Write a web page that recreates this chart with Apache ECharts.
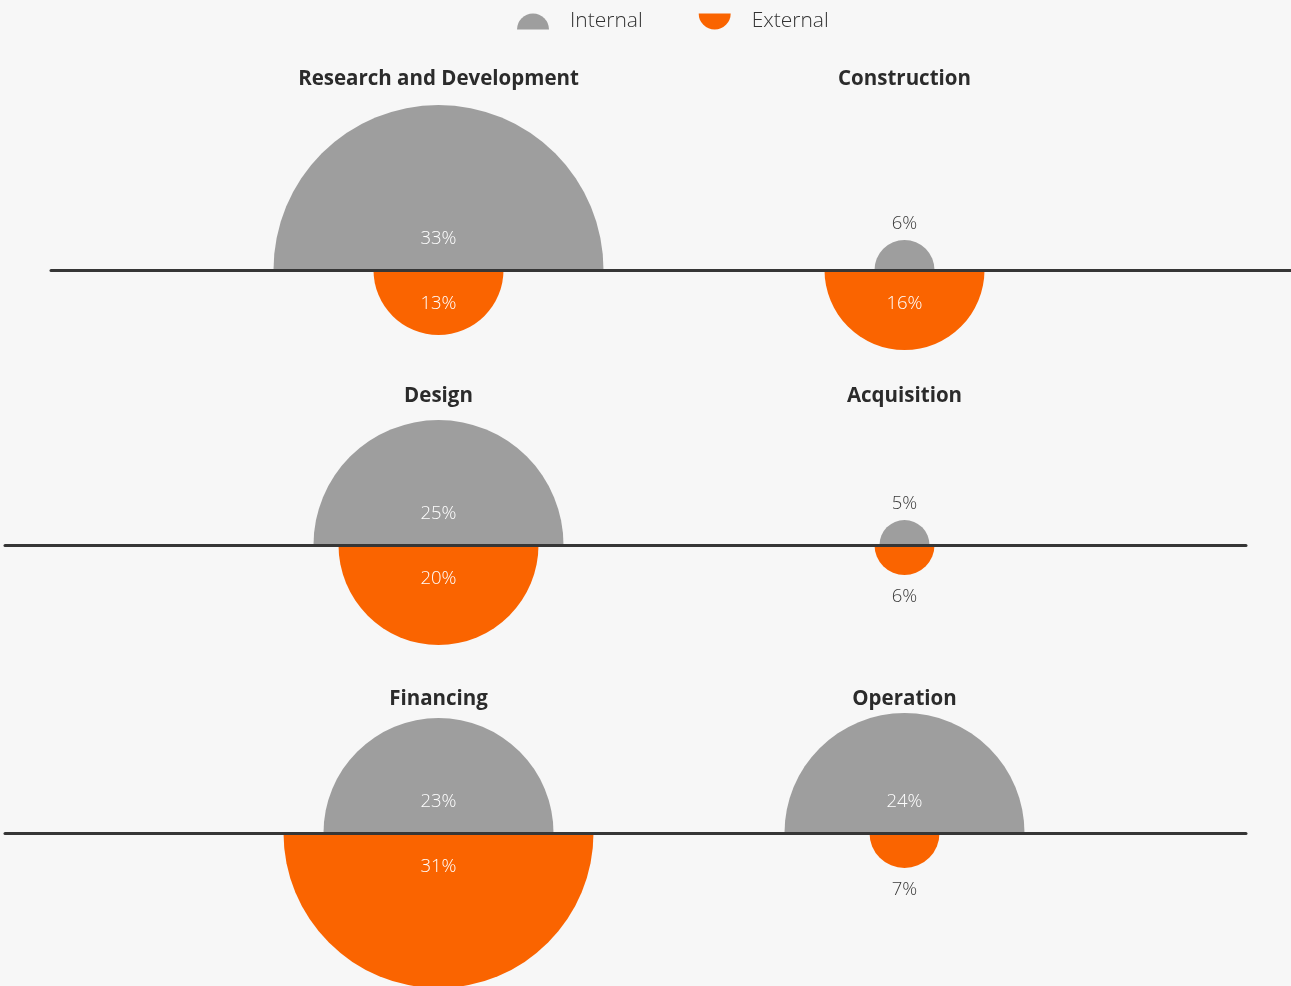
<!DOCTYPE html>
<html>
<head>
<meta charset="utf-8">
<title>Internal vs External</title>
<script src="https://cdn.jsdelivr.net/npm/echarts@6/dist/echarts.min.js"></script>
<style>
  html, body { margin: 0; padding: 0; background: #f7f7f7; }
  #chart { width: 1291px; height: 986px; }
</style>
</head>
<body>
<div id="chart"></div>
<script>
// Share of work done internally vs externally, per project phase (%)
const categories = ['Research and Development', 'Construction', 'Design', 'Acquisition', 'Financing', 'Operation'];
const internalValues = [33, 6, 25, 5, 23, 24];
const externalValues = [13, 16, 20, 6, 31, 7];
const seriesNames = ['Internal', 'External'];

// Layout: two columns, three rows, each row drawn on its own grid
const COLORS = { Internal: '#9e9e9e', External: '#fa6400' };
const FONT = '"Open Sans", "DejaVu Sans", sans-serif';
const colCenters = [438.5, 904.5];
const rowLayout = [
  { baseline: 270, left: 51, right: 1291, titleY: 77 },
  { baseline: 545, left: 5, right: 1246, titleY: 394 },
  { baseline: 833, left: 5, right: 1246, titleY: 697 }
];
const PX_PER_UNIT = 5;       // radius pixels per percentage point
const Y_HALF = 30;           // y axis spans -Y_HALF..Y_HALF
const COL_SPACING = colCenters[1] - colCenters[0];

const grids = [], xAxes = [], yAxes = [], titles = [], series = [];

rowLayout.forEach(function (row, r) {
  const h = 2 * Y_HALF * PX_PER_UNIT;
  const w = row.right - row.left;
  grids.push({ left: row.left, top: row.baseline - h / 2, width: w, height: h, containLabel: false });
  xAxes.push({
    gridIndex: r, type: 'value',
    min: -(colCenters[0] - row.left) / COL_SPACING,
    max: (row.right - colCenters[0]) / COL_SPACING,
    axisLine: { show: true, onZero: true, lineStyle: { color: '#363636', width: 3 } },
    axisTick: { show: false }, axisLabel: { show: false }, splitLine: { show: false },
    z: 5
  });
  yAxes.push({
    gridIndex: r, type: 'value', min: -Y_HALF, max: Y_HALF, show: false,
    splitLine: { show: false }
  });
});

categories.forEach(function (name, i) {
  const r = Math.floor(i / 2), c = i % 2;
  titles.push({
    text: name,
    left: colCenters[c], top: rowLayout[r].titleY - 8,
    textAlign: 'center', padding: 0,
    textStyle: { fontFamily: FONT, fontSize: 20.5, fontWeight: 'bold', color: '#2b2b2b' }
  });
});

function makeRenderer(kind) {
  const up = kind === 'Internal';
  return function (params, api) {
    const col = api.value(0), val = api.value(1);
    const center = api.coord([col, 0]);
    const radius = api.size([0, val])[1];
    const inside = radius > 50;
    let ty, color;
    if (inside) {
      ty = center[1] + (up ? -31 : 34);
      color = '#ffffff';
    } else {
      ty = up ? center[1] - radius - 16 : center[1] + radius + 22;
      color = '#3a3a3a';
    }
    return {
      type: 'group',
      children: [
        {
          type: 'sector',
          shape: {
            cx: center[0], cy: center[1], r0: 0, r: radius,
            startAngle: up ? Math.PI : 0,
            endAngle: up ? Math.PI * 2 : Math.PI,
            clockwise: true
          },
          style: { fill: COLORS[kind] }
        },
        {
          type: 'text',
          z2: 10,
          style: {
            x: center[0], y: ty,
            text: val + '%',
            fill: color,
            font: '300 18.5px ' + FONT,
            align: 'center', verticalAlign: 'middle'
          }
        }
      ]
    };
  };
}

rowLayout.forEach(function (row, r) {
  [['Internal', internalValues], ['External', externalValues]].forEach(function (pair) {
    const kind = pair[0], values = pair[1];
    const data = [];
    for (let c = 0; c < 2; c++) data.push([c, values[r * 2 + c]]);
    series.push({
      name: kind, type: 'custom',
      xAxisIndex: r, yAxisIndex: r,
      clip: false, z: 2,
      itemStyle: { color: COLORS[kind] },
      renderItem: makeRenderer(kind),
      data: data
    });
  });
});

const chart = echarts.init(document.getElementById('chart'), null, { renderer: 'canvas' });
chart.setOption({
  backgroundColor: '#f7f7f7',
  animation: false,
  title: titles,
  legend: {
    left: 517, top: 11, padding: 0,
    itemWidth: 32, itemHeight: 16, itemGap: 56,
    textStyle: { fontFamily: FONT, fontSize: 21, fontWeight: 300, color: '#333', padding: [0, 0, 0, 16] },
    data: [
      { name: seriesNames[0], icon: 'path://M0,1 A1,1 0 0 1 2,1 Z' },
      { name: seriesNames[1], icon: 'path://M0,0 A1,1 0 0 0 2,0 Z' }
    ]
  },
  grid: grids,
  xAxis: xAxes,
  yAxis: yAxes,
  series: series
});
</script>
</body>
</html>
